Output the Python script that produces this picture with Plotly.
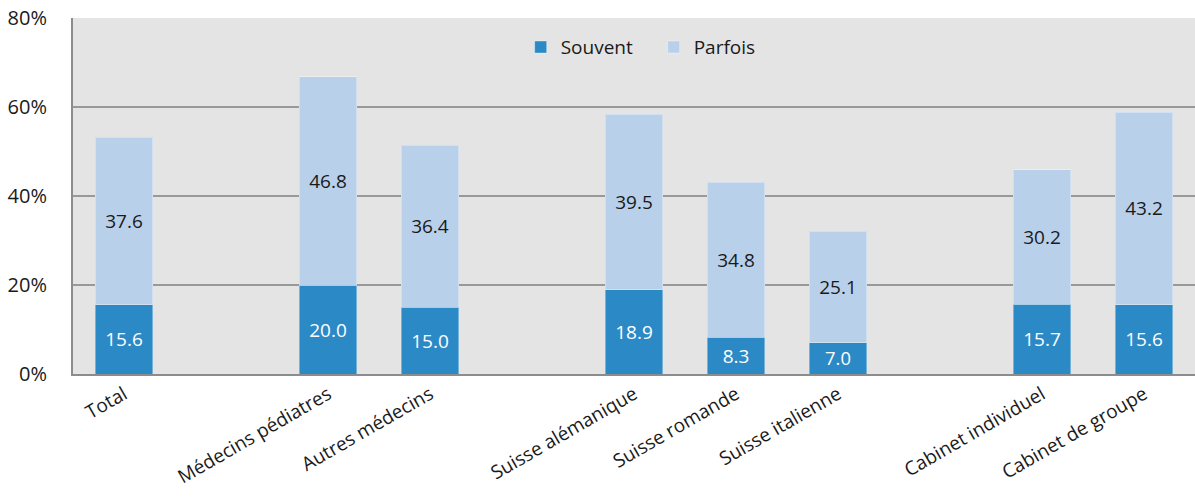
import plotly.graph_objects as go

categories = ["Total", " ", "Médecins pédiatres", "Autres médecins", "  ",
              "Suisse alémanique", "Suisse romande", "Suisse italienne", "   ",
              "Cabinet individuel", "Cabinet de groupe"]
souvent = [15.6, None, 20.0, 15.0, None, 18.9, 8.3, 7.0, None, 15.7, 15.6]
parfois = [37.6, None, 46.8, 36.4, None, 39.5, 34.8, 25.1, None, 30.2, 43.2]
y_ticks = [0, 20, 40, 60, 80]
y_tick_labels = [f"{v}%" for v in y_ticks]

FONT = "Open Sans"

def fmt(vals):
    return [("" if v is None else f"{v:.1f}") for v in vals]

fig = go.Figure()
fig.add_trace(go.Bar(
    x=categories, y=souvent, name="Souvent",
    marker=dict(color="#2b8ac6", line=dict(color="rgba(255,255,255,0.35)", width=1)),
    text=fmt(souvent), textposition="inside", insidetextanchor="middle",
    textfont=dict(color="white", size=19, family=FONT),
))
fig.add_trace(go.Bar(
    x=categories, y=parfois, name="Parfois",
    marker=dict(color="#b8d0ea", line=dict(color="rgba(255,255,255,0.35)", width=1)),
    text=fmt(parfois), textposition="inside", insidetextanchor="middle",
    textfont=dict(color="#1a1a1a", size=19, family=FONT),
))

fig.update_layout(
    barmode="stack",
    bargap=0.44,
    width=1195, height=500,
    margin=dict(l=73, r=0, t=18, b=126, autoexpand=False),
    paper_bgcolor="white",
    plot_bgcolor="#e4e4e4",
    font=dict(family=FONT, color="#1a1a1a", size=18),
    showlegend=True,
    legend=dict(orientation="h", x=0.399, xanchor="left", y=0.918, yanchor="middle",
                bgcolor="rgba(0,0,0,0)", font=dict(size=19, family=FONT),
                itemwidth=30, entrywidth=88, entrywidthmode="pixels",
                traceorder="normal"),
)
fig.update_xaxes(
    type="category", categoryorder="array", categoryarray=categories,
    range=[-0.5, len(categories) - 0.5], automargin=False,
    tickangle=-30, tickfont=dict(size=19, family=FONT, color="#1a1a1a"),
    showline=True, linecolor="#8c8c8c", linewidth=2, showgrid=False,
    ticks="", ticklabeloverflow="allow",
)
fig.update_yaxes(
    range=[0, 80], tickvals=y_ticks, ticktext=y_tick_labels, automargin=False,
    tickfont=dict(size=20, family=FONT, color="#1a1a1a"),
    showgrid=True, gridcolor="#999999", gridwidth=1.5,
    showline=True, linecolor="#8c8c8c", linewidth=2, mirror=True,
    zeroline=False, ticks="", ticklabelstandoff=20, ticklabeloverflow="allow",
)
fig.write_html("out.html", config={"displayModeBar": False},
               post_script="document.body.style.margin='0';document.body.style.padding='0';")
